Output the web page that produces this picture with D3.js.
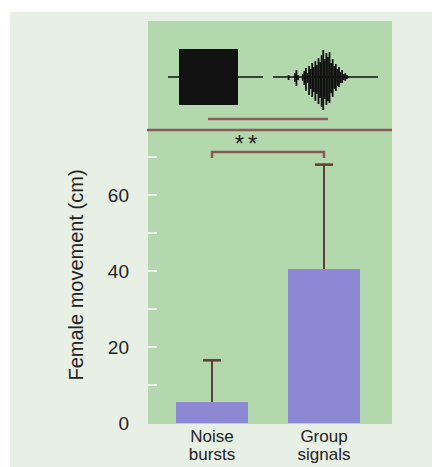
<!DOCTYPE html>
<html>
<head>
<meta charset="utf-8">
<script src="https://cdn.jsdelivr.net/npm/d3@7/dist/d3.min.js"></script>
<style>
  body { margin: 0; background: #fff; }
  svg { display: block; }
  text { font-family: "Liberation Sans", Arial, sans-serif; fill: #222; }
</style>
</head>
<body>
<svg id="chart" width="432" height="467"></svg>
<script>
// data
var categories = ['Noise bursts', 'Group signals']
var means = [5.5, 40.5]
var errs = [11, 27.5]
var yTicks = [0, 20, 40, 60]
var yMinor = [10, 30, 50, 70]
// envelope of the group-signal trace (hand traced, left to right, px above / below the baseline)
var groupUp = [0,2,0,0,0,4,7,2,0,0,3,6,9,4,11,8,14,10,16,12,19,15,22,27,18,24,20,25,14,18,11,13,8,10,5,7,3,4,2,1,0]
var groupDown = [0,3,0,0,0,5,9,3,0,0,4,8,14,6,18,12,20,15,24,17,27,21,30,33,22,28,24,26,16,20,12,14,9,10,6,6,3,4,2,1,0]

var svg = d3.select('#chart')
svg.append('rect').attr('x', 10).attr('y', 12).attr('width', 422).attr('height', 455).attr('fill', '#e8efe5')

var panel = { left: 148, right: 392, top: 21, bottom: 424 }
svg.append('rect')
    .attr('x', panel.left).attr('y', panel.top)
    .attr('width', panel.right - panel.left).attr('height', panel.bottom - panel.top)
    .attr('fill', '#b3d8ae')

var y = d3.scaleLinear().domain([0, 70]).range([423, 157])
var x = d3.scalePoint().domain(categories).range([212, 324])
var barW = 72

// bars
svg.selectAll('rect.bar')
    .data(categories)
    .enter()
    .append('rect')
    .attr('class', 'bar')
    .attr('x', function(d) { return x(d) - barW / 2 })
    .attr('width', barW)
    .attr('y', function(d, i) { return y(means[i]) })
    .attr('height', function(d, i) { return y(0) - y(means[i]) })
    .attr('fill', '#8d88d4')

// error bars
categories.forEach(function(c, i) {
    var cx = x(c)
    svg.append('line')
        .attr('x1', cx).attr('x2', cx)
        .attr('y1', y(means[i])).attr('y2', y(means[i] + errs[i]))
        .attr('stroke', '#5e3b35').attr('stroke-width', 2)
    svg.append('line')
        .attr('x1', cx - 9).attr('x2', cx + 9)
        .attr('y1', y(means[i] + errs[i])).attr('y2', y(means[i] + errs[i]))
        .attr('stroke', '#5e3b35').attr('stroke-width', 2.5)
})

// y ticks: white marks inside the panel
svg.selectAll('line.tick')
    .data(yTicks.concat(yMinor).filter(function(d) { return d > 0 }))
    .enter()
    .append('line')
    .attr('x1', panel.left).attr('x2', panel.left + 9)
    .attr('y1', function(d) { return y(d) }).attr('y2', function(d) { return y(d) })
    .attr('stroke', '#f4f7f0').attr('stroke-width', 2)

svg.selectAll('text.ytick')
    .data(yTicks)
    .enter()
    .append('text')
    .attr('x', 129)
    .attr('y', function(d) { return y(d) })
    .attr('dy', '0.36em')
    .attr('text-anchor', 'end')
    .attr('font-size', 19)
    .text(function(d) { return d })

svg.append('text')
    .attr('transform', 'translate(83,275) rotate(-90)')
    .attr('text-anchor', 'middle')
    .attr('font-size', 20)
    .text('Female movement (cm)')

// category labels
categories.forEach(function(c) {
    var words = c.split(' ')
    var t = svg.append('text')
        .attr('y', 442)
        .attr('text-anchor', 'middle')
        .attr('font-size', 17)
    words.forEach(function(w, j) {
        t.append('tspan').attr('x', x(c)).attr('dy', j ? 18 : 0).text(w)
    })
})

// significance bracket
var x0 = x(categories[0])
var x1 = x(categories[1])
svg.append('path')
    .attr('d', 'M' + x0 + ',158 V152 H' + x1 + ' V158')
    .attr('fill', 'none').attr('stroke', '#8a5a58').attr('stroke-width', 2.5)
svg.append('text')
    .attr('x', 248).attr('y', 152)
    .attr('text-anchor', 'middle')
    .attr('font-size', 24)
    .attr('letter-spacing', 4)
    .text('**')

// separator lines
svg.append('line')
    .attr('x1', panel.left - 1).attr('x2', panel.right)
    .attr('y1', 130).attr('y2', 130)
    .attr('stroke', '#8a5a58').attr('stroke-width', 2.5)
svg.append('line')
    .attr('x1', 208).attr('x2', 328)
    .attr('y1', 119).attr('y2', 119)
    .attr('stroke', '#8a5a58').attr('stroke-width', 2.5)

// waveforms
var mid = 77
svg.append('line').attr('x1', 168).attr('x2', 263).attr('y1', mid).attr('y2', mid).attr('stroke', '#111').attr('stroke-width', 1.5)
svg.append('rect').attr('x', 179).attr('y', 49).attr('width', 59).attr('height', 56).attr('fill', '#111')
svg.append('line').attr('x1', 273).attr('x2', 378).attr('y1', mid).attr('y2', mid).attr('stroke', '#111').attr('stroke-width', 1.5)
var gx = d3.scaleLinear().domain([0, groupUp.length - 1]).range([287, 350])
groupUp.forEach(function(u, i) {
    svg.append('line')
        .attr('x1', gx(i)).attr('x2', gx(i))
        .attr('y1', mid - u).attr('y2', mid + groupDown[i])
        .attr('stroke', '#111').attr('stroke-width', 1.8)
})
</script>
</body>
</html>
